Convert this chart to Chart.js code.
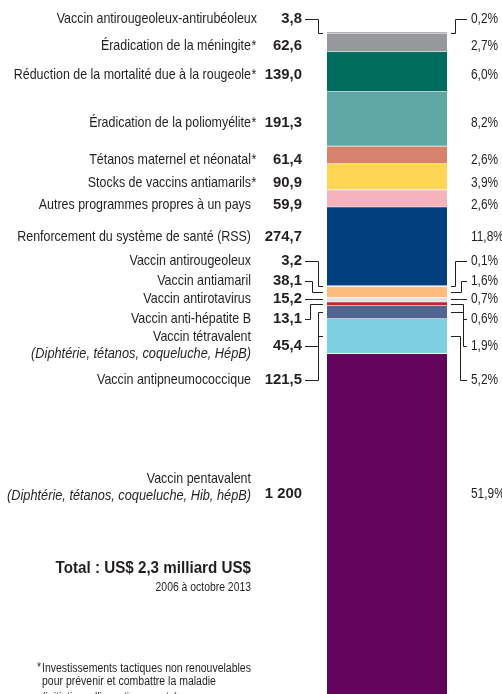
<!DOCTYPE html>
<html lang="fr">
<head>
<meta charset="utf-8">
<title>Investissements par programme, 2006 à octobre 2013</title>
<script src="https://cdn.jsdelivr.net/npm/chart.js@4.4.0/dist/chart.umd.min.js"></script>
<style>
  html, body { margin: 0; padding: 0; background: #fff; }
  #wrap { width: 502px; height: 694px; position: relative; overflow: hidden; }
</style>
</head>
<body>
<div id="wrap"><canvas id="gaviChart" width="502" height="694"></canvas></div>
<script>
// programmes, top of the bar to the bottom
const categories = [
  'Vaccin antirougeoleux-antirubéoleux',
  'Éradication de la méningite*',
  'Réduction de la mortalité due à la rougeole*',
  'Éradication de la poliomyélite*',
  'Tétanos maternel et néonatal*',
  'Stocks de vaccins antiamarils*',
  'Autres programmes propres à un pays',
  'Renforcement du système de santé (RSS)',
  'Vaccin antirougeoleux',
  'Vaccin antiamaril',
  'Vaccin antirotavirus',
  'Vaccin anti-hépatite B',
  'Vaccin tétravalent',
  'Vaccin antipneumococcique',
  'Vaccin pentavalent'
];
const subLabels = [null, null, null, null, null, null, null, null, null, null, null, null,
  '(Diphtérie, tétanos, coqueluche, HépB)', null,
  '(Diphtérie, tétanos, coqueluche, Hib, hépB)'];
// millions US$
const amounts = [3.8, 62.6, 139.0, 191.3, 61.4, 90.9, 59.9, 274.7, 3.2, 38.1, 15.2, 13.1, 45.4, 121.5, 1200];
// share of total, %
const shares = [0.2, 2.7, 6.0, 8.2, 2.6, 3.9, 2.6, 11.8, 0.1, 1.6, 0.7, 0.6, 1.9, 5.2, 51.9];

const totalText = 'Total : US$ 2,3 milliard US$';
const periodText = '2006 à octobre 2013';
const footnote = ['Investissements tactiques non renouvelables',
  'pour prévenir et combattre la maladie',
  "(initiatives d'investissements)"];

const segmentColors = ['#b5b5b7', '#97989b', '#006b5f', '#5fa8a6', '#d6826c', '#fed554', '#f7b3bb',
  '#003e7e', '#ececec', '#fdbb7d', '#e2e2e2', '#c1262d', '#506690', '#7ecfe0', '#62035c'];

// text layout (pixel rows of the labels, elbows of the leader lines)
const layout = {
  labelY: [19, 46, 75, 123, 160, 183, 205, 237, 261, 281, 299, 319, 337, 380, 479],
  valueY: [19, 46, 75, 123, 160, 183, 205, 237, 261, 281, 299, 319, 346, 380, 494],
  lineGap: 17,
  labelRight: 251,
  labelNudge: { 0: 6 },
  valueRight: 302,
  pctLeft: 471,
  leftFrom: 305, leftTo: 323,
  rightFrom: 451, rightTo: 467,
  callouts: {
    0: [318, 455], 8: [318, 455], 9: [312, 461], 10: [314, 459],
    11: [310, 463], 12: [318, 463], 13: [318, 460]
  },
  footY: [669, 681.5, 698]
};

const ink = '#231f20';
const face = '"Liberation Sans", Arial, sans-serif';
const squeeze = 0.858; // fake a condensed face

function fmtAmount(v) {
  if (v >= 1000) return Math.floor(v / 1000) + ' ' + String(v % 1000).padStart(3, '0');
  return v.toFixed(1).replace('.', ',');
}
function fmtShare(v) {
  return v.toFixed(1).replace('.', ',') + '%';
}

function drawText(ctx, str, x, y, font, align, sx) {
  ctx.save();
  ctx.font = font;
  ctx.textAlign = align;
  ctx.translate(x, y);
  ctx.scale(sx, 1);
  ctx.fillText(str, 0, 0);
  ctx.restore();
}

const labelPlugin = {
  id: 'labelPlugin',
  afterDraw(chart) {
    const ctx = chart.ctx;
    ctx.save();
    ctx.fillStyle = ink;
    ctx.strokeStyle = ink;
    ctx.lineWidth = 1;
    ctx.textBaseline = 'middle';
    const reg = '14.5px ' + face;

    categories.forEach((name, i) => {
      const ly = layout.labelY[i];
      const vy = layout.valueY[i];
      const right = layout.labelRight + (layout.labelNudge[i] || 0);
      // category name, asterisk hanging past the right edge
      const star = name.endsWith('*');
      drawText(ctx, star ? name.slice(0, -1) : name, right, ly, reg, 'right', squeeze);
      if (star) drawText(ctx, '*', right + 0.5, ly, reg, 'left', squeeze);
      if (subLabels[i]) {
        drawText(ctx, subLabels[i], right, ly + layout.lineGap, 'italic ' + reg, 'right', 0.88);
      }
      drawText(ctx, fmtAmount(amounts[i]), layout.valueRight, vy, 'bold 15.5px ' + face, 'right', 0.96);
      drawText(ctx, fmtShare(shares[i]), layout.pctLeft, vy, reg, 'left', 0.82);

      const c = layout.callouts[i];
      if (c) {
        const bar = chart.getDatasetMeta(i).data[0];
        const my = Math.round((bar.y + bar.base) / 2) + 0.5;
        const ty = Math.round(vy) + 0.5;
        ctx.beginPath();
        ctx.moveTo(layout.leftFrom, ty);
        ctx.lineTo(c[0] + 0.5, ty);
        ctx.lineTo(c[0] + 0.5, my);
        ctx.lineTo(layout.leftTo, my);
        ctx.moveTo(layout.rightFrom, my);
        ctx.lineTo(c[1] + 0.5, my);
        ctx.lineTo(c[1] + 0.5, ty);
        ctx.lineTo(layout.rightTo, ty);
        ctx.stroke();
      }
    });

    drawText(ctx, totalText, layout.labelRight, 568, 'bold 16.5px ' + face, 'right', 0.92);
    drawText(ctx, periodText, layout.labelRight, 587, '13px ' + face, 'right', 0.8);

    const fn = '12.5px ' + face;
    drawText(ctx, '*', 37, layout.footY[0] - 1, fn, 'left', 0.84);
    footnote.forEach((t, k) => drawText(ctx, t, 42, layout.footY[k], fn, 'left', 0.84));
    ctx.restore();
  }
};

new Chart(document.getElementById('gaviChart'), {
  type: 'bar',
  data: {
    labels: [''],
    datasets: categories.map((name, i) => ({
      label: name,
      data: [amounts[i]],
      backgroundColor: segmentColors[i],
      borderColor: '#ffffff',
      borderWidth: amounts[i] < 5 ? 0 : { top: 1, right: 0, bottom: 0, left: 0 },
      borderSkipped: false,
      barPercentage: 1,
      categoryPercentage: 1
    }))
  },
  options: {
    responsive: false,
    animation: false,
    layout: { padding: { top: 32, right: 55, bottom: 0, left: 327 } },
    scales: {
      x: { stacked: true, display: false, grid: { display: false } },
      y: { stacked: true, display: false, reverse: true, min: 0, max: 2308, grid: { display: false } }
    },
    plugins: {
      legend: { display: false },
      tooltip: { enabled: false }
    }
  },
  plugins: [labelPlugin]
});
</script>
</body>
</html>
